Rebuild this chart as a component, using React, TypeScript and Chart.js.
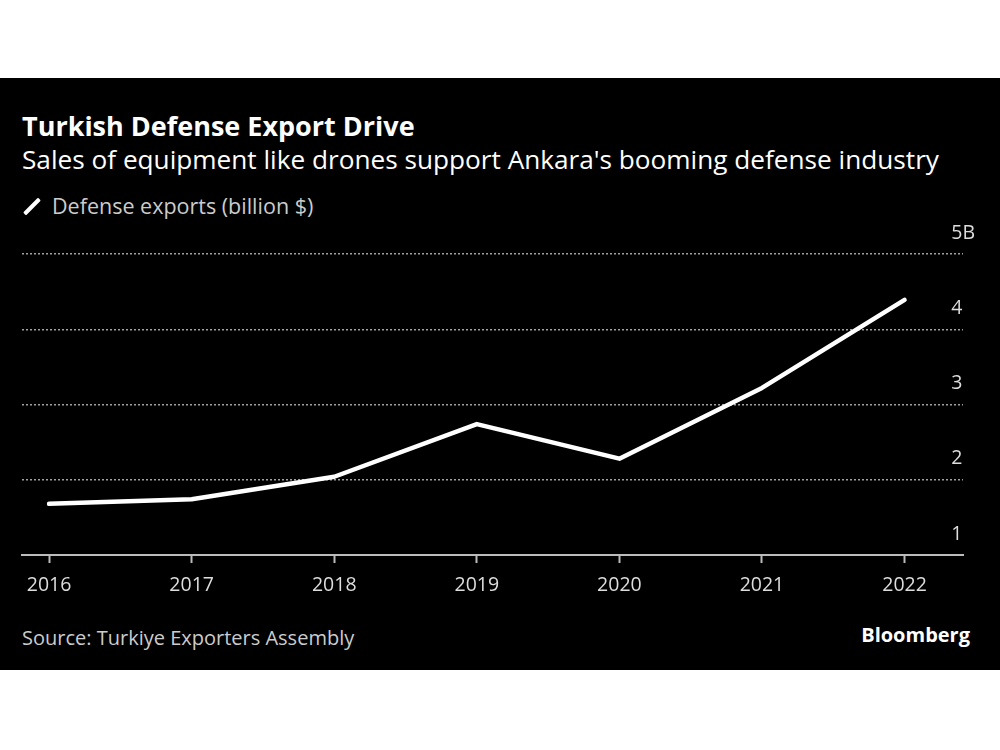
import React, { useEffect, useRef } from "react";
import { Chart, registerables } from "chart.js";

Chart.register(...registerables);

const years = [2016, 2017, 2018, 2019, 2020, 2021, 2022];
const exportsBn = [1.68, 1.74, 2.04, 2.74, 2.28, 3.22, 4.39];
const yTickValues = [1, 2, 3, 4, 5];
const yTickLabels = ["1", "2", "3", "4", "5B"];

const FONT = "'Open Sans', 'Noto Sans', sans-serif";

export default function App() {
  const canvasRef = useRef<HTMLCanvasElement | null>(null);

  useEffect(() => {
    const canvas = canvasRef.current;
    if (!canvas) return;
    const chart = new Chart(canvas, {
      type: "line",
      data: {
        datasets: [
          {
            label: "Defense exports (billion $)",
            data: years.map((y, i) => ({ x: y, y: exportsBn[i] })),
            borderColor: "#ffffff",
            borderWidth: 4.5,
            borderCapStyle: "round",
            borderJoinStyle: "round",
            pointRadius: 0,
            tension: 0,
          },
        ],
      },
      options: {
        animation: false,
        responsive: false,
        maintainAspectRatio: false,
        layout: { padding: { left: 22, top: 39, right: 0, bottom: 0 } },
        plugins: { legend: { display: false }, tooltip: { enabled: false } },
        scales: {
          x: {
            type: "linear",
            min: 2015.81,
            max: 2022.41,
            afterBuildTicks: (scale: any) => {
              scale.ticks = years.map((v) => ({ value: v }));
            },
            afterFit: (scale: any) => {
              scale.height = 60;
            },
            grid: {
              drawOnChartArea: false,
              drawTicks: true,
              tickLength: 8,
              tickWidth: 2,
              color: "#bbbbbb",
            },
            border: { display: true, color: "#bbbbbb", width: 2 },
            ticks: {
              color: "#dddddd",
              font: { family: FONT, size: 19.5 },
              padding: 11,
              maxRotation: 0,
              autoSkip: false,
              callback: (v: any) => String(v),
            },
          },
          y: {
            type: "linear",
            position: "right",
            min: 1,
            max: 5,
            afterBuildTicks: (scale: any) => {
              scale.ticks = yTickValues.map((v) => ({ value: v }));
            },
            afterFit: (scale: any) => {
              scale.width = 37;
            },
            grid: {
              drawTicks: false,
              lineWidth: 1.5,
              color: (ctx: any) =>
                ctx.tick && ctx.tick.value === 1 ? "rgba(0,0,0,0)" : "#a0a0a0",
            },
            border: { display: false, dash: [2, 2] },
            ticks: {
              mirror: true,
              crossAlign: "far",
              color: "#dddddd",
              font: { family: FONT, size: 19.5 },
              padding: 12,
              labelOffset: -21,
              callback: (v: any) => yTickLabels[yTickValues.indexOf(v)] ?? String(v),
            },
          },
        },
      } as any,
    });
    return () => chart.destroy();
  }, []);

  return (
    <div
      style={{
        position: "absolute",
        left: 0,
        top: 0,
        width: 1000,
        height: 750,
        background: "#ffffff",
        fontFamily: FONT,
        overflow: "hidden",
      }}
    >
      <div
        style={{
          position: "absolute",
          left: 0,
          top: 78,
          width: 1000,
          height: 592,
          background: "#000000",
        }}
      />
      <div
        style={{
          position: "absolute",
          left: 22,
          top: 112,
          fontSize: 27,
          lineHeight: "27px",
          fontWeight: 700,
          color: "#ffffff",
          whiteSpace: "nowrap",
        }}
      >
        Turkish Defense Export Drive
      </div>
      <div
        style={{
          position: "absolute",
          left: 22,
          top: 146,
          fontSize: 26.2,
          lineHeight: "26.2px",
          color: "#ffffff",
          whiteSpace: "nowrap",
        }}
      >
        Sales of equipment like drones support Ankara's booming defense industry
      </div>
      <div
        style={{
          position: "absolute",
          left: 30,
          top: 196,
          width: 4,
          height: 21,
          background: "#ffffff",
          borderRadius: 1,
          transform: "rotate(45deg)",
        }}
      />
      <div
        style={{
          position: "absolute",
          left: 52,
          top: 195,
          fontSize: 21.5,
          lineHeight: "21.5px",
          color: "#cccccc",
          whiteSpace: "nowrap",
        }}
      >
        Defense exports (billion $)
      </div>
      <canvas
        ref={canvasRef}
        width={1000}
        height={400}
        style={{ position: "absolute", left: 0, top: 215, width: 1000, height: 400 }}
      />
      <div
        style={{
          position: "absolute",
          left: 22,
          top: 628,
          fontSize: 20,
          lineHeight: "20px",
          color: "#cccccc",
          whiteSpace: "nowrap",
        }}
      >
        Source: Turkiye Exporters Assembly
      </div>
      <div
        style={{
          position: "absolute",
          right: 30,
          top: 625,
          fontSize: 20,
          lineHeight: "20px",
          fontWeight: 700,
          color: "#ffffff",
          whiteSpace: "nowrap",
        }}
      >
        Bloomberg
      </div>
    </div>
  );
}
